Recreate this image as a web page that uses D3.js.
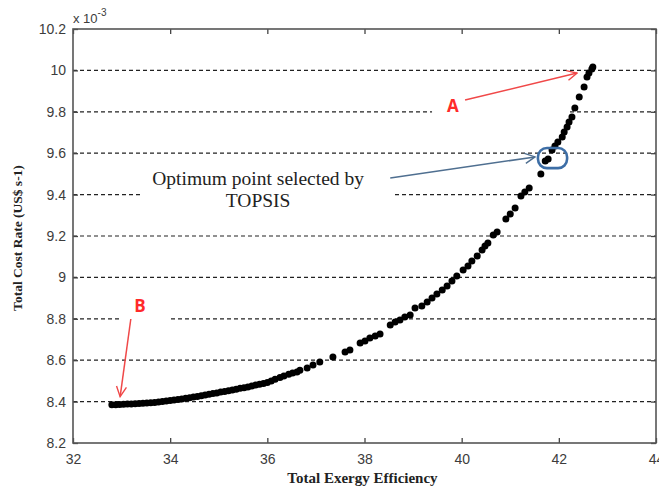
<!DOCTYPE html>
<html>
<head>
<meta charset="utf-8">
<script src="https://cdn.jsdelivr.net/npm/d3@7"></script>
<style>
  body { margin: 0; background: #fff; }
  svg { display: block; }
</style>
</head>
<body>
<svg id="chart" width="659" height="487"></svg>
<script>
// pareto front points
var effX = [32.80, 32.88, 32.96, 33.04, 33.12, 33.20, 33.28, 33.36, 33.44, 33.52,
  33.60, 33.68, 33.76, 33.84, 33.92, 34.00, 34.08, 34.16, 34.24, 34.32,
  34.40, 34.48, 34.56, 34.64, 34.72, 34.80, 34.88, 34.96, 35.04, 35.12,
  35.20, 35.28, 35.36, 35.44, 35.52, 35.60, 35.68, 35.76, 35.84, 35.92,
  36.00, 36.08, 36.16, 36.26, 36.34, 36.44, 36.52, 36.61, 36.67, 36.82,
  36.94, 37.08, 37.35, 37.60, 37.70, 37.91, 38.01, 38.11, 38.22, 38.32,
  38.53, 38.63, 38.73, 38.83, 38.94, 39.04, 39.18, 39.29, 39.39, 39.49,
  39.60, 39.70, 39.80, 39.90, 40.03, 40.13, 40.21, 40.32, 40.42, 40.48,
  40.54, 40.65, 40.73, 40.91, 41.00, 41.10, 41.22, 41.30, 41.39, 41.63,
  41.72, 41.78, 41.86, 41.92, 41.98, 42.07, 42.11, 42.17, 42.21, 42.27,
  42.33, 42.42, 42.52, 42.58, 42.62, 42.68, 42.70];
var costY = [8.385, 8.385, 8.386, 8.387, 8.388, 8.389, 8.390, 8.391, 8.392, 8.393,
  8.394, 8.396, 8.398, 8.400, 8.403, 8.405, 8.408, 8.410, 8.413, 8.416,
  8.419, 8.422, 8.425, 8.428, 8.432, 8.435, 8.439, 8.442, 8.446, 8.449,
  8.453, 8.456, 8.460, 8.464, 8.467, 8.471, 8.475, 8.480, 8.484, 8.488,
  8.492, 8.500, 8.508, 8.517, 8.524, 8.532, 8.538, 8.543, 8.552, 8.562,
  8.577, 8.591, 8.615, 8.640, 8.649, 8.683, 8.693, 8.707, 8.717, 8.727,
  8.770, 8.785, 8.794, 8.809, 8.818, 8.852, 8.862, 8.881, 8.900, 8.920,
  8.939, 8.958, 8.983, 9.007, 9.036, 9.055, 9.079, 9.103, 9.132, 9.152,
  9.166, 9.205, 9.219, 9.282, 9.306, 9.335, 9.393, 9.413, 9.432, 9.500,
  9.562, 9.572, 9.615, 9.635, 9.654, 9.678, 9.702, 9.727, 9.751, 9.775,
  9.818, 9.871, 9.920, 9.968, 9.987, 10.007, 10.016];

var xTicks = [32, 34, 36, 38, 40, 42, 44];
var yTicks = [8.2, 8.4, 8.6, 8.8, 9, 9.2, 9.4, 9.6, 9.8, 10, 10.2];
var yTickLabels = ["8.2", "8.4", "8.6", "8.8", "9", "9.2", "9.4", "9.6", "9.8", "10", "10.2"];

var svg = d3.select('#chart');

var m = { l: 73, r: 656, t: 29, b: 443 };
var x = d3.scaleLinear().domain([32, 44]).range([m.l, m.r]);
var y = d3.scaleLinear().domain([8.2, 10.2]).range([m.b, m.t]);

// dashed grid lines (horizontal only)
svg.append('g')
  .selectAll('line')
  .data(yTicks.slice(1, -1))
  .enter().append('line')
  .attr('x1', m.l).attr('x2', m.r)
  .attr('y1', d => y(d)).attr('y2', d => y(d))
  .attr('stroke', '#222')
  .attr('stroke-width', 1.2)
  .attr('stroke-dasharray', '4,3');

// white boxes of the annotations, they cut the grid
var boxes = [
  [33.38, 38.57, 9.553, 9.311],  // text box
  [39.39, 42.19, 9.876, 9.780],  // A
  [32.97, 33.96, 8.939, 8.765]   // B
];
svg.append('g')
  .selectAll('rect')
  .data(boxes)
  .enter().append('rect')
  .attr('x', d => x(d[0]))
  .attr('width', d => x(d[1]) - x(d[0]))
  .attr('y', d => y(d[2]))
  .attr('height', d => y(d[3]) - y(d[2]))
  .attr('fill', '#fff');

// axes, ticks inside like matlab
var fmt = d => yTickLabels[yTicks.indexOf(d)];
var axFont = '"Liberation Sans", Arial, sans-serif';

var gx = svg.append('g')
  .attr('transform', 'translate(0,' + m.b + ')')
  .call(d3.axisBottom(x).tickValues(xTicks).tickSize(-5).tickSizeOuter(0).tickPadding(11));
var gxt = svg.append('g')
  .attr('transform', 'translate(0,' + m.t + ')')
  .call(d3.axisTop(x).tickValues(xTicks).tickSize(-5).tickSizeOuter(0).tickFormat(''));
var gy = svg.append('g')
  .attr('transform', 'translate(' + m.l + ',0)')
  .call(d3.axisLeft(y).tickValues(yTicks).tickSize(-5).tickSizeOuter(0).tickPadding(7).tickFormat(fmt));
var gyr = svg.append('g')
  .attr('transform', 'translate(' + m.r + ',0)')
  .call(d3.axisRight(y).tickValues(yTicks).tickSize(-5).tickSizeOuter(0).tickFormat(''));

[gx, gxt, gy, gyr].forEach(function (g) {
  g.select('.domain').remove();
  g.selectAll('line').attr('stroke', '#444').attr('stroke-width', 1.3);
  g.selectAll('text')
    .attr('fill', '#3c3c3c')
    .style('font-family', axFont)
    .style('font-size', '14px');
});

svg.append('rect')
  .attr('x', m.l).attr('y', m.t)
  .attr('width', m.r - m.l).attr('height', m.b - m.t)
  .attr('fill', 'none')
  .attr('stroke', '#555')
  .attr('stroke-width', 1.6);

// exponent label
var expo = svg.append('text')
  .attr('x', m.l).attr('y', 23)
  .attr('fill', '#3c3c3c')
  .style('font-family', axFont)
  .style('font-size', '13px')
  .text('x 10');
expo.append('tspan').attr('dy', -7).style('font-size', '10px').text('-3');

// points
svg.append('g')
  .selectAll('circle')
  .data(effX)
  .enter().append('circle')
  .attr('cx', d => x(d))
  .attr('cy', (d, i) => y(costY[i]))
  .attr('r', 3.5)
  .attr('fill', '#000');

// axis titles
svg.append('text')
  .attr('x', (m.l + m.r) / 2 - 2).attr('y', 483)
  .attr('text-anchor', 'middle')
  .style('font-family', '"Liberation Serif", "Times New Roman", serif')
  .style('font-weight', 'bold')
  .style('font-size', '15px')
  .attr('fill', '#222')
  .text('Total Exergy Efficiency');

svg.append('text')
  .attr('transform', 'translate(22,' + ((m.t + m.b) / 2 + 2) + ') rotate(-90)')
  .attr('text-anchor', 'middle')
  .style('font-family', '"Liberation Serif", "Times New Roman", serif')
  .style('font-weight', 'bold')
  .style('font-size', '13.5px')
  .attr('fill', '#222')
  .text('Total Cost Rate (US$ s-1)');

// arrow heads
var defs = svg.append('defs');
function head(id, col) {
  defs.append('marker')
    .attr('id', id)
    .attr('viewBox', '0 0 12 12')
    .attr('refX', 11).attr('refY', 6)
    .attr('markerWidth', 12).attr('markerHeight', 12)
    .attr('markerUnits', 'userSpaceOnUse')
    .attr('orient', 'auto')
    .append('path')
    .attr('d', 'M1,1 L11,6 L1,11')
    .attr('fill', 'none')
    .attr('stroke', col)
    .attr('stroke-width', 1.4);
}
head('redHead', '#f04848');
head('blueHead', '#4f6f90');

// arrows: [x1, y1, x2, y2]
var arrows = [
  [40.07, 9.857, 42.375, 9.987, '#f04848', 'redHead'],
  [33.19, 8.799, 32.97, 8.424, '#f04848', 'redHead'],
  [38.53, 9.480, 41.51, 9.582, '#4f6f90', 'blueHead']
];
svg.append('g')
  .selectAll('line')
  .data(arrows)
  .enter().append('line')
  .attr('x1', d => x(d[0])).attr('y1', d => y(d[1]))
  .attr('x2', d => x(d[2])).attr('y2', d => y(d[3]))
  .attr('stroke', d => d[4])
  .attr('stroke-width', 1.5)
  .attr('marker-end', d => 'url(#' + d[5] + ')');

// highlight of the selected point
svg.append('rect')
  .attr('x', x(41.57)).attr('y', y(9.625))
  .attr('width', x(42.17) - x(41.57))
  .attr('height', y(9.528) - y(9.625))
  .attr('rx', 9).attr('ry', 9)
  .attr('fill', 'none')
  .attr('stroke', '#3d6ea6')
  .attr('stroke-width', 2.6);

// labels A, B
var ab = [['A', 39.82, 9.80], ['B', 33.38, 8.835]];
svg.append('g')
  .selectAll('text')
  .data(ab)
  .enter().append('text')
  .attr('x', d => x(d[1])).attr('y', d => y(d[2]))
  .attr('text-anchor', 'middle')
  .attr('fill', '#ff2a2a')
  .style('font-family', '"Open Sans", Arial, sans-serif')
  .style('font-weight', 'bold')
  .style('font-size', '17px')
  .text(d => d[0]);

// note text
var note = svg.append('text')
  .attr('text-anchor', 'middle')
  .attr('fill', '#222')
  .style('font-family', '"Liberation Serif", "Times New Roman", serif')
  .style('font-size', '19.5px');
note.append('tspan').attr('x', x(35.81)).attr('y', y(9.446)).text('Optimum point selected by');
note.append('tspan').attr('x', x(35.81)).attr('y', y(9.340)).text('TOPSIS');
</script>
</body>
</html>
